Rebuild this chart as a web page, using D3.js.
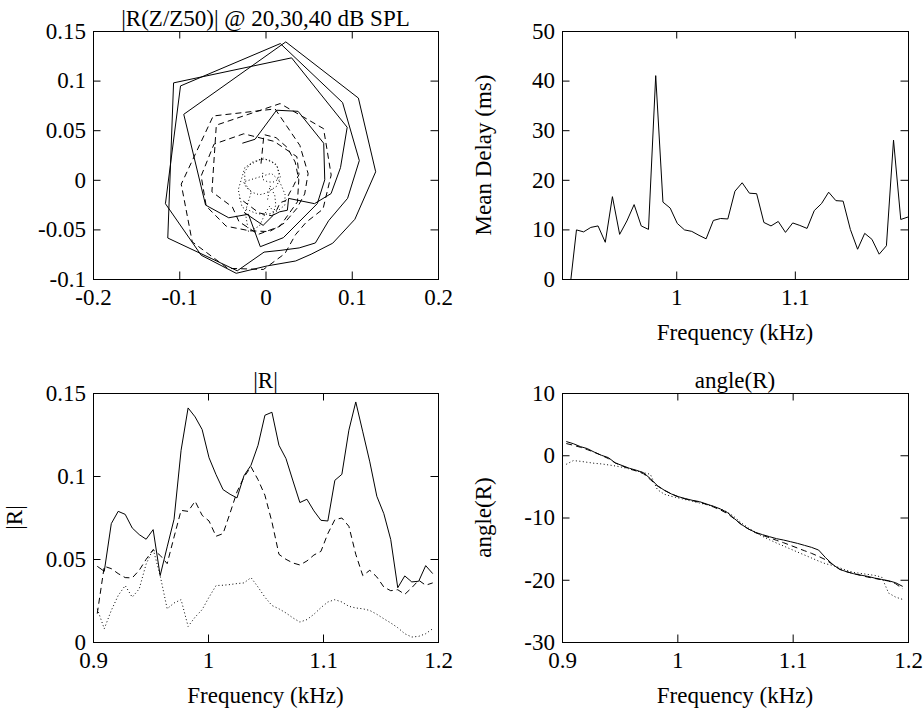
<!DOCTYPE html>
<html>
<head>
<meta charset="utf-8">
<script src="https://cdn.jsdelivr.net/npm/d3@7"></script>
<style>
  body { margin: 0; background: #fff; }
  svg text { font-family: "Liberation Serif", "Times New Roman", serif; font-size: 23px; fill: #000; }
</style>
</head>
<body>
<svg id="fig" width="924" height="713"></svg>
<script>
// frequency bins (kHz)
var freq = [0.9037,0.9098,0.9159,0.9219,0.9280,0.9341,0.9402,0.9462,0.9523,0.9584,
            0.9645,0.9705,0.9766,0.9827,0.9888,0.9949,1.0009,1.0070,1.0131,1.0192,
            1.0252,1.0313,1.0374,1.0435,1.0495,1.0556,1.0617,1.0678,1.0739,1.0799,
            1.0860,1.0921,1.0982,1.1042,1.1103,1.1164,1.1225,1.1285,1.1346,1.1407,
            1.1468,1.1529,1.1589,1.1650,1.1711,1.1772,1.1832,1.1893,1.1954];

// mean delay (ms)
var delayMs = [-20,-3,9.9,9.5,10.4,10.7,7.4,16.6,9.0,11.7,
               15.0,10.7,10.0,41.0,15.5,14.3,11.2,9.9,9.6,8.8,
               8.1,11.8,12.2,12.1,17.7,19.4,17.3,17.2,11.4,10.7,
               11.6,9.4,11.3,10.8,10.2,13.8,15.2,17.5,15.8,15.7,
               10.0,6.0,9.2,8.0,5.0,6.7,28.0,12.0,12.5];

// |R| for the three levels (solid, dashed, dotted)
var magSolid = [0.0456,0.0426,0.0713,0.0787,0.0769,0.0687,0.0647,0.0619,0.0677,0.0400,
                0.0573,0.0740,0.1155,0.1410,0.1356,0.1280,0.1110,0.1008,0.0918,0.0890,
                0.0868,0.1002,0.1065,0.1185,0.1366,0.1384,0.1185,0.1105,0.0970,0.0840,
                0.0860,0.0790,0.0733,0.0729,0.0974,0.1010,0.1276,0.1446,0.1266,0.1085,
                0.0878,0.0773,0.0617,0.0327,0.0398,0.0362,0.0366,0.0460,0.0412];
var magDashed = [0.0171,0.0456,0.0442,0.0412,0.0388,0.0386,0.0432,0.0498,0.0556,0.0522,
                 0.0472,0.0633,0.0793,0.0787,0.0848,0.0763,0.0729,0.0637,0.0653,0.0777,
                 0.0904,0.0994,0.1055,0.0978,0.0884,0.0723,0.0528,0.0498,0.0476,0.0464,
                 0.0488,0.0524,0.0546,0.0653,0.0737,0.0747,0.0697,0.0528,0.0400,0.0432,
                 0.0392,0.0331,0.0309,0.0315,0.0287,0.0327,0.0372,0.0342,0.0356];
var magDotted = [0.0200,0.0080,0.0190,0.0280,0.0340,0.0270,0.0320,0.0470,0.0560,0.0400,
                 0.0200,0.0235,0.0255,0.0094,0.0150,0.0195,0.0270,0.0340,0.0342,0.0346,
                 0.0352,0.0356,0.0388,0.0331,0.0270,0.0220,0.0200,0.0175,0.0145,0.0120,
                 0.0135,0.0167,0.0207,0.0241,0.0255,0.0241,0.0215,0.0205,0.0200,0.0190,
                 0.0167,0.0140,0.0115,0.0086,0.0050,0.0030,0.0034,0.0050,0.0080];

// angle(R), unwrapped (rad)
var angSolid = [2.20,1.86,1.39,1.07,0.50,0.00,-0.38,-1.23,-1.66,-2.09,
                -2.41,-2.79,-3.75,-4.88,-5.63,-6.22,-6.65,-6.97,-7.24,-7.45,
                -7.83,-8.20,-8.63,-9.22,-10.19,-11.12,-11.85,-12.39,-12.76,-13.08,
                -13.40,-13.62,-13.89,-14.16,-14.48,-14.80,-15.23,-16.45,-17.52,-18.34,
                -18.71,-19.03,-19.25,-19.46,-19.73,-19.95,-20.16,-20.48,-21.07];
var angDashed = [1.88,1.61,1.29,0.91,0.48,0.00,-0.54,-1.23,-1.72,-2.20,
                 -2.52,-2.95,-3.91,-4.93,-5.63,-6.22,-6.70,-7.02,-7.29,-7.56,
                 -7.88,-8.31,-8.79,-9.38,-10.24,-11.15,-11.85,-12.44,-12.87,-13.24,
                 -13.67,-14.05,-14.48,-14.91,-15.34,-15.76,-16.25,-16.78,-17.53,-18.28,
                 -18.71,-19.03,-19.30,-19.57,-19.79,-20.00,-20.21,-20.64,-21.45];
var angDotted = [-1.45,-0.86,-0.97,-1.13,-1.29,-1.39,-1.55,-1.72,-1.93,-2.20,
                 -2.52,-2.79,-3.06,-5.52,-6.27,-6.60,-6.86,-7.13,-7.40,-7.67,
                 -7.94,-8.20,-8.63,-9.12,-9.92,-10.88,-11.69,-12.39,-13.03,-13.57,
                 -14.10,-14.58,-15.07,-15.55,-16.03,-16.51,-17.00,-17.43,-17.69,-18.07,
                 -18.50,-18.82,-18.98,-19.14,-19.30,-19.57,-22.14,-22.79,-23.16];

// tick labels
var nyqXTicks = [-0.2,-0.1,0,0.1,0.2];
var nyqYTicks = [-0.1,-0.05,0,0.05,0.1,0.15];
var freqTicks = [0.9,1,1.1,1.2];
var delayTicks = [0,10,20,30,40,50];
var magTicks = [0,0.05,0.1,0.15];
var angTicks = [-30,-20,-10,0,10];

let svg = d3.select("#fig"),
    tickLen = 7.5,
    dashStyle = "6,4",
    dotStyle = "1,2.5";

//build one matlab style axes box, ticks inside on all four sides
function makePanel(id, box, xDomain, yDomain, xTicks, yTicks) {
  let w = box.right - box.left,
      h = box.bottom - box.top;
  let x = d3.scaleLinear().domain(xDomain).range([0, w]),
      y = d3.scaleLinear().domain(yDomain).range([h, 0]);
  let g = svg.append("g").attr("transform", "translate(" + box.left + "," + box.top + ")");
  let fmt = function(d) { return String(d); };

  // only keep ticks that fall inside the axis limits
  let inside = function(sc) {
    let dom = sc.domain();
    return function(v) { return v >= dom[0] - 1e-9 && v <= dom[1] + 1e-9; };
  };
  xTicks = xTicks.filter(inside(x));
  yTicks = yTicks.filter(inside(y));

  svg.append("clipPath").attr("id", "clip_" + id)
    .append("rect").attr("width", w).attr("height", h);

  g.append("g").attr("class", "axis")
    .attr("transform", "translate(0," + h + ")")
    .call(d3.axisBottom(x).tickValues(xTicks).tickSize(-tickLen).tickPadding(10).tickFormat(fmt));
  g.append("g").attr("class", "axis")
    .call(d3.axisTop(x).tickValues(xTicks).tickSize(-tickLen).tickFormat(""));
  g.append("g").attr("class", "axis")
    .call(d3.axisLeft(y).tickValues(yTicks).tickSize(-tickLen).tickPadding(7).tickFormat(fmt));
  g.append("g").attr("class", "axis")
    .attr("transform", "translate(" + w + ",0)")
    .call(d3.axisRight(y).tickValues(yTicks).tickSize(-tickLen).tickFormat(""));
  g.selectAll(".axis .domain").remove();

  g.append("rect")
    .attr("x", 0.5).attr("y", 0.5)
    .attr("width", w).attr("height", h)
    .attr("fill", "none").attr("stroke", "#000").attr("stroke-width", 1);

  let plot = g.append("g").attr("clip-path", "url(#clip_" + id + ")");
  return { g: g, plot: plot, x: x, y: y, w: w, h: h };
}

function drawLine(p, xs, ys, dash) {
  let line = d3.line()
    .x(function(d, i) { return p.x(xs[i]); })
    .y(function(d, i) { return p.y(ys[i]); });
  p.plot.append("path")
    .datum(ys)
    .attr("d", line)
    .attr("fill", "none")
    .attr("stroke", "#000")
    .attr("stroke-width", 1)
    .attr("stroke-dasharray", dash);
}

function addText(p, str, x, y, rotate) {
  let t = p.g.append("text")
    .attr("text-anchor", "middle")
    .text(str);
  if (rotate) {
    t.attr("transform", "translate(" + x + "," + y + ") rotate(-90)");
  } else {
    t.attr("x", x).attr("y", y);
  }
}

//complex R from magnitude and phase
function re(mag, ang) { return mag.map(function(m, i) { return m * Math.cos(ang[i]); }); }
function im(mag, ang) { return mag.map(function(m, i) { return m * Math.sin(ang[i]); }); }

// top left: R in the complex plane
let nyq = makePanel("nyq", {left: 93, top: 31, right: 438, bottom: 279}, [-0.2, 0.2], [-0.1, 0.15], nyqXTicks, nyqYTicks);
drawLine(nyq, re(magSolid, angSolid), im(magSolid, angSolid), null);
drawLine(nyq, re(magDashed, angDashed), im(magDashed, angDashed), dashStyle);
drawLine(nyq, re(magDotted, angDotted), im(magDotted, angDotted), dotStyle);
addText(nyq, "|R(Z/Z50)| @ 20,30,40 dB SPL", nyq.w / 2, -5);

// top right: mean delay
let del = makePanel("del", {left: 562, top: 31, right: 908, bottom: 279}, d3.extent(freq), [0, 50], freqTicks, delayTicks);
drawLine(del, freq, delayMs, null);
addText(del, "Frequency (kHz)", del.w / 2, del.h + 61);
addText(del, "Mean Delay (ms)", -71, del.h / 2, true);

// bottom left: |R|
let mag = makePanel("mag", {left: 93, top: 393, right: 438, bottom: 642}, [0.9, 1.2], [0, 0.15], freqTicks, magTicks);
drawLine(mag, freq, magSolid, null);
drawLine(mag, freq, magDashed, dashStyle);
drawLine(mag, freq, magDotted, dotStyle);
addText(mag, "|R|", mag.w / 2, -5);
addText(mag, "Frequency (kHz)", mag.w / 2, mag.h + 61);
addText(mag, "|R|", -71, mag.h / 2, true);

// bottom right: angle(R)
let ang = makePanel("ang", {left: 562, top: 393, right: 908, bottom: 642}, [0.9, 1.2], [-30, 10], freqTicks, angTicks);
drawLine(ang, freq, angSolid, null);
drawLine(ang, freq, angDashed, dashStyle);
drawLine(ang, freq, angDotted, dotStyle);
addText(ang, "angle(R)", ang.w / 2, -5);
addText(ang, "Frequency (kHz)", ang.w / 2, ang.h + 61);
addText(ang, "angle(R)", -71, ang.h / 2, true);
</script>
</body>
</html>
